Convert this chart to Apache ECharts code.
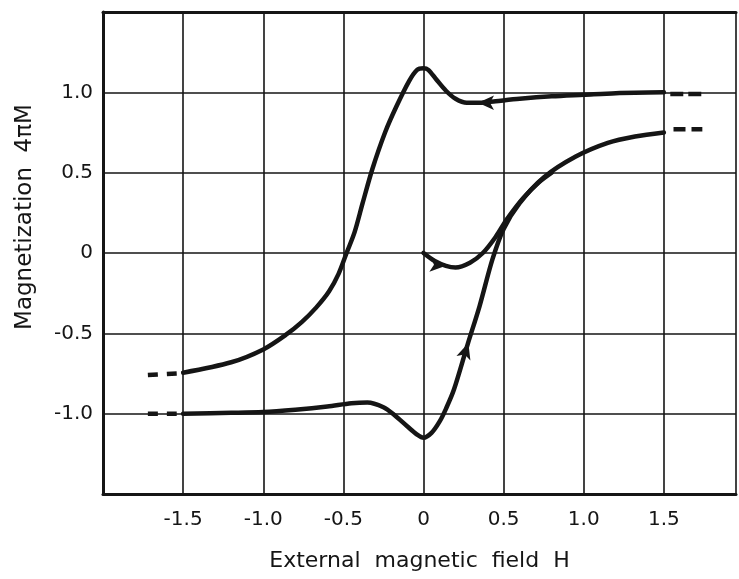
<!DOCTYPE html>
<html>
<head>
<meta charset="utf-8">
<script src="https://cdn.jsdelivr.net/npm/echarts@6/dist/echarts.min.js"></script>
<style>
  html, body { margin: 0; padding: 0; background: #fff; }
</style>
</head>
<body>
<div id="chart-hyst" style="width: 739px;height: 579px"></div>
<script>
// curves: [H, 4piM]
const descBranch = [
  [1.5, 1.0], [1.2, 0.995], [1.0, 0.985], [0.8, 0.975], [0.6, 0.96], [0.45, 0.945],
  [0.35, 0.935], [0.27, 0.935], [0.2, 0.96], [0.14, 1.01], [0.08, 1.08], [0.03, 1.14],
  [0, 1.15], [-0.04, 1.14], [-0.09, 1.07], [-0.17, 0.91], [-0.24, 0.75], [-0.32, 0.52],
  [-0.38, 0.31], [-0.43, 0.13], [-0.48, 0], [-0.53, -0.13], [-0.59, -0.24], [-0.67, -0.34],
  [-0.76, -0.43], [-0.86, -0.51], [-1.0, -0.6], [-1.2, -0.68], [-1.5, -0.745]
]
const ascBranch = [
  [-1.5, -1.0], [-1.2, -0.995], [-1.0, -0.99], [-0.8, -0.975], [-0.6, -0.955], [-0.45, -0.935],
  [-0.35, -0.93], [-0.25, -0.96], [-0.18, -1.01], [-0.1, -1.08], [-0.04, -1.13], [0, -1.15],
  [0.05, -1.12], [0.1, -1.05], [0.14, -0.97], [0.19, -0.85], [0.275, -0.57], [0.35, -0.33],
  [0.43, -0.04], [0.5, 0.15], [0.6, 0.31], [0.75, 0.47], [0.95, 0.6], [1.15, 0.685],
  [1.32, 0.725], [1.5, 0.75]
]
const initialCurve = [
  [0, 0], [0.07, -0.05], [0.14, -0.08], [0.2, -0.09], [0.29, -0.06], [0.37, 0],
  [0.45, 0.1], [0.52, 0.21], [0.62, 0.34], [0.72, 0.44], [0.8, 0.5]
]
const dashTopRight = [[1.54, 0.99], [1.74, 0.99]]
const dashMidRight = [[1.56, 0.77], [1.74, 0.77]]
const dashMidLeft = [[-1.72, -0.76], [-1.54, -0.75]]
const dashBotLeft = [[-1.72, -1.0], [-1.54, -1.0]]
// arrow heads: [H, 4piM, rotation in degrees]
const arrowHeads = [
  [0.34, 0.935, 90],
  [0.14, -0.08, -95],
  [0.28, -0.56, -18]
]
const xTicks = [-1.5, -1.0, -0.5, 0, 0.5, 1.0, 1.5]
const yTicks = [-1.0, -0.5, 0, 0.5, 1.0]

const fmt = (v) => (Math.abs(v) < 1e-9 ? '0' : v.toFixed(1))
const ink = '#151515'

const drawChart = () => {
  const chartDom = document.getElementById('chart-hyst')
  const chart = echarts.init(chartDom)

  const solid = (data) => ({
    type: 'line',
    data,
    smooth: 0.3,
    showSymbol: false,
    symbol: 'none',
    silent: true,
    lineStyle: { color: ink, width: 4.5, cap: 'round', join: 'round' }
  })
  const dashed = (data, dash) => ({
    type: 'line',
    data,
    showSymbol: false,
    symbol: 'none',
    silent: true,
    lineStyle: { color: ink, width: 4.5, type: dash, cap: 'butt' }
  })

  const option = {
    animation: false,
    backgroundColor: '#fff',
    grid: { left: 103, right: 2, top: 12, bottom: 85 },
    xAxis: [
      {
        type: 'value',
        min: -2,
        max: 1.95,
        interval: 0.5,
        name: 'External  magnetic  field  H',
        nameLocation: 'middle',
        nameGap: 56,
        nameTextStyle: { color: ink, fontSize: 22, fontFamily: 'DejaVu Sans' },
        axisLine: { show: true, onZero: false, lineStyle: { color: ink, width: 3 } },
        axisTick: { show: false },
        axisLabel: {
          color: ink,
          fontSize: 20,
          fontFamily: 'DejaVu Sans',
          margin: 16,
          formatter: (v) => (xTicks.some(t => Math.abs(t - v) < 1e-9) ? fmt(v) : '')
        },
        splitLine: { show: true, lineStyle: { color: ink, width: 1.6 } }
      },
      {
        type: 'value',
        position: 'top',
        min: -2,
        max: 1.95,
        axisLine: { show: true, onZero: false, lineStyle: { color: ink, width: 3 } },
        axisTick: { show: false },
        axisLabel: { show: false },
        splitLine: { show: false }
      }
    ],
    yAxis: {
      type: 'value',
      min: -1.5,
      max: 1.5,
      interval: 0.5,
      name: 'Magnetization  4πM',
      nameLocation: 'middle',
      nameGap: 66,
      nameTextStyle: { color: ink, fontSize: 23, fontFamily: 'DejaVu Sans', padding: [0, 0, 0, 72] },
      axisLine: { show: true, onZero: false, lineStyle: { color: ink, width: 3 } },
      axisTick: { show: false },
      axisLabel: {
        color: ink,
        fontSize: 20,
        fontFamily: 'DejaVu Sans',
        margin: 10,
        formatter: (v) => (yTicks.some(t => Math.abs(t - v) < 1e-9) ? fmt(v) : '')
      },
      splitLine: { show: true, lineStyle: { color: ink, width: 1.6 } }
    },
    series: [
      solid(descBranch),
      solid(ascBranch),
      solid(initialCurve),
      dashed(dashTopRight, [13, 5]),
      dashed(dashMidRight, [12, 6]),
      dashed(dashMidLeft, [10, 9]),
      dashed(dashBotLeft, [10, 9]),
      {
        type: 'scatter',
        silent: true,
        symbol: 'arrow',
        symbolSize: [11, 16],
        itemStyle: { color: ink, opacity: 1 },
        data: arrowHeads.map(a => ({ value: [a[0], a[1]], symbolRotate: a[2] }))
      }
    ]
  }
  chart.setOption(option)
}

drawChart()
</script>
</body>
</html>
